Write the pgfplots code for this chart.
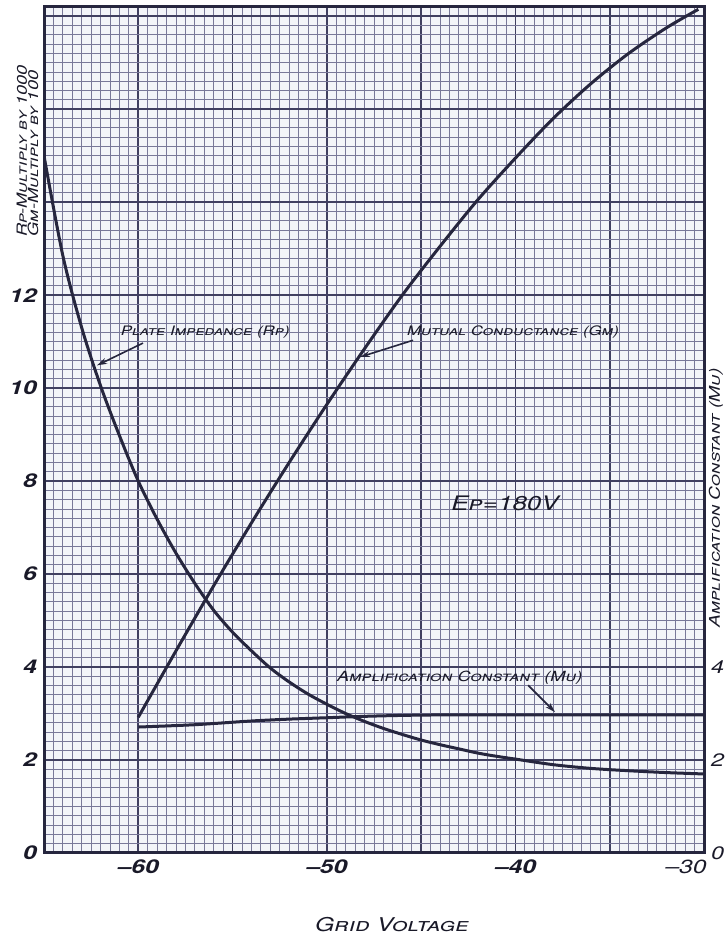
\documentclass[border=0pt]{standalone}
\usepackage{fontspec}
\setmainfont{TeX Gyre Heros}[FakeStretch=1.3]
\usepackage{pgfplots}
\pgfplotsset{compat=1.18}
\usetikzlibrary{arrows.meta}
\definecolor{paper}{RGB}{242,244,248}
\definecolor{gmin}{RGB}{120,120,152}
\definecolor{gmaj}{RGB}{64,64,96}
\definecolor{ink}{RGB}{38,38,62}
\definecolor{txt}{RGB}{25,25,40}
\begin{document}
\begin{tikzpicture}
\useasboundingbox (0,0) rectangle (362.5pt,469pt);
\begin{axis}[
  at={(22pt,42.5pt)}, anchor=south west,
  scale only axis, width=330pt, height=423pt,
  xmin=-65, xmax=-30, ymin=0, ymax=18.2,
  axis background/.style={fill=paper},
  xtick={-65,-60,...,-30},
  xticklabels={,--60,,--50,,--40,,},
  ytick={0,2,...,18},
  yticklabels={0,2,4,6,8,10,12,{},{},{}},
  minor x tick num=9, minor y tick num=9,
  grid=both,
  major grid style={line width=0.85pt, color=gmaj},
  minor grid style={line width=0.5pt, color=gmin},
  major tick length=0pt, minor tick length=0pt,
  axis line style={line width=1.5pt, color=ink},
  tick label style={font=\fontsize{9.5}{9.5}\selectfont\bfseries\itshape, text=txt},
  extra x ticks={-30}, extra x tick labels={--30},
  extra x tick style={grid=none, xticklabel style={xshift=-9pt, font=\fontsize{9.5}{9.5}\selectfont\itshape}},
]
% Plate impedance Rp (x1000)
\addplot[ink, line width=1.5pt, smooth, tension=0.5] coordinates {
 (-65,15.0) (-64,12.85) (-63,11.3) (-62,10.05) (-61,8.98) (-60,8.0)
 (-59,7.18) (-58,6.45) (-57,5.8) (-56,5.22) (-55,4.75) (-54,4.35)
 (-53,3.98) (-52,3.68) (-51,3.42) (-50,3.2) (-49,3.0) (-48,2.83)
 (-47,2.68) (-46,2.55) (-45,2.43) (-44,2.33) (-43,2.24) (-42,2.15)
 (-41,2.08) (-40,2.02) (-38,1.9) (-36,1.82) (-34,1.77) (-32,1.73) (-30,1.7)
};
% Mutual conductance Gm (x100)
\addplot[ink, line width=1.5pt, smooth, tension=0.5] coordinates {
 (-60,2.92) (-58,4.35) (-56,5.75) (-54,7.1) (-52,8.4) (-50,9.65)
 (-48,10.85) (-46,12.0) (-44,13.05) (-42,14.05) (-40,14.95) (-38,15.8)
 (-36,16.55) (-34,17.2) (-32,17.75) (-30.3,18.15)
};
\node[anchor=west, text=txt, font=\fontsize{6.5}{7}\selectfont\itshape\scshape] at (axis cs:-61.3,11.2) {Plate Impedance (Rp)};
\draw[-{Stealth[length=5pt,width=3pt]}, ink, line width=0.8pt] (axis cs:-59.75,10.97) -- (axis cs:-62.19,10.49);
\node[anchor=west, text=txt, font=\fontsize{6.5}{7}\selectfont\itshape\scshape] at (axis cs:-46.12,11.2) {Mutual Conductance (Gm)};
\draw[-{Stealth[length=5pt,width=3pt]}, ink, line width=0.8pt] (axis cs:-45.43,11.03) -- (axis cs:-48.24,10.67);
\node[text=txt, font=\fontsize{10}{10}\selectfont\itshape\scshape] at (axis cs:-40.55,7.53) {Ep=180V};
\node[anchor=west, text=txt, font=\fontsize{7}{7}\selectfont\itshape\scshape] at (axis cs:-49.83,3.76) {Amplification Constant (Mu)};
\draw[-{Stealth[length=5pt,width=3pt]}, ink, line width=0.8pt] (axis cs:-39.33,3.61) -- (axis cs:-37.9,3.03);
\end{axis}
\begin{axis}[
  at={(22pt,42.5pt)}, anchor=south west,
  scale only axis, width=330pt, height=423pt,
  xmin=-65, xmax=-30, ymin=0, ymax=18.2,
  axis x line=none, axis y line*=right,
  ytick={0,2,4}, yticklabels={0,2,4},
  major tick length=0pt,
  axis line style={line width=1.5pt, color=ink},
  yticklabel style={font=\fontsize{9}{9}\selectfont\itshape, text=txt},
]
% Amplification constant Mu
\addplot[ink, line width=1.5pt, smooth, tension=0.5] coordinates {
 (-60,2.71) (-57,2.76) (-54,2.84) (-52,2.88) (-50,2.91) (-48,2.94)
 (-46,2.96) (-44,2.97) (-40,2.97) (-35,2.97) (-30,2.97)
};
\end{axis}
\node[rotate=90, anchor=west, inner sep=0pt, align=left, text=txt,
  font=\fontsize{7}{5.6}\selectfont\itshape\scshape] at (13.75pt,350.5pt)
  {Rp-Multiply by 1000\\Gm-Multiply by 100};
\node[rotate=90, anchor=west, inner sep=0pt, text=txt,
  font=\fontsize{7.4}{7.4}\selectfont\itshape\scshape] at (358pt,155pt)
  {Amplification Constant (Mu)};
\node[text=txt, font=\fontsize{9.5}{9.5}\selectfont\itshape\scshape] at (196pt,6.5pt) {Grid Voltage};
\end{tikzpicture}
\end{document}
